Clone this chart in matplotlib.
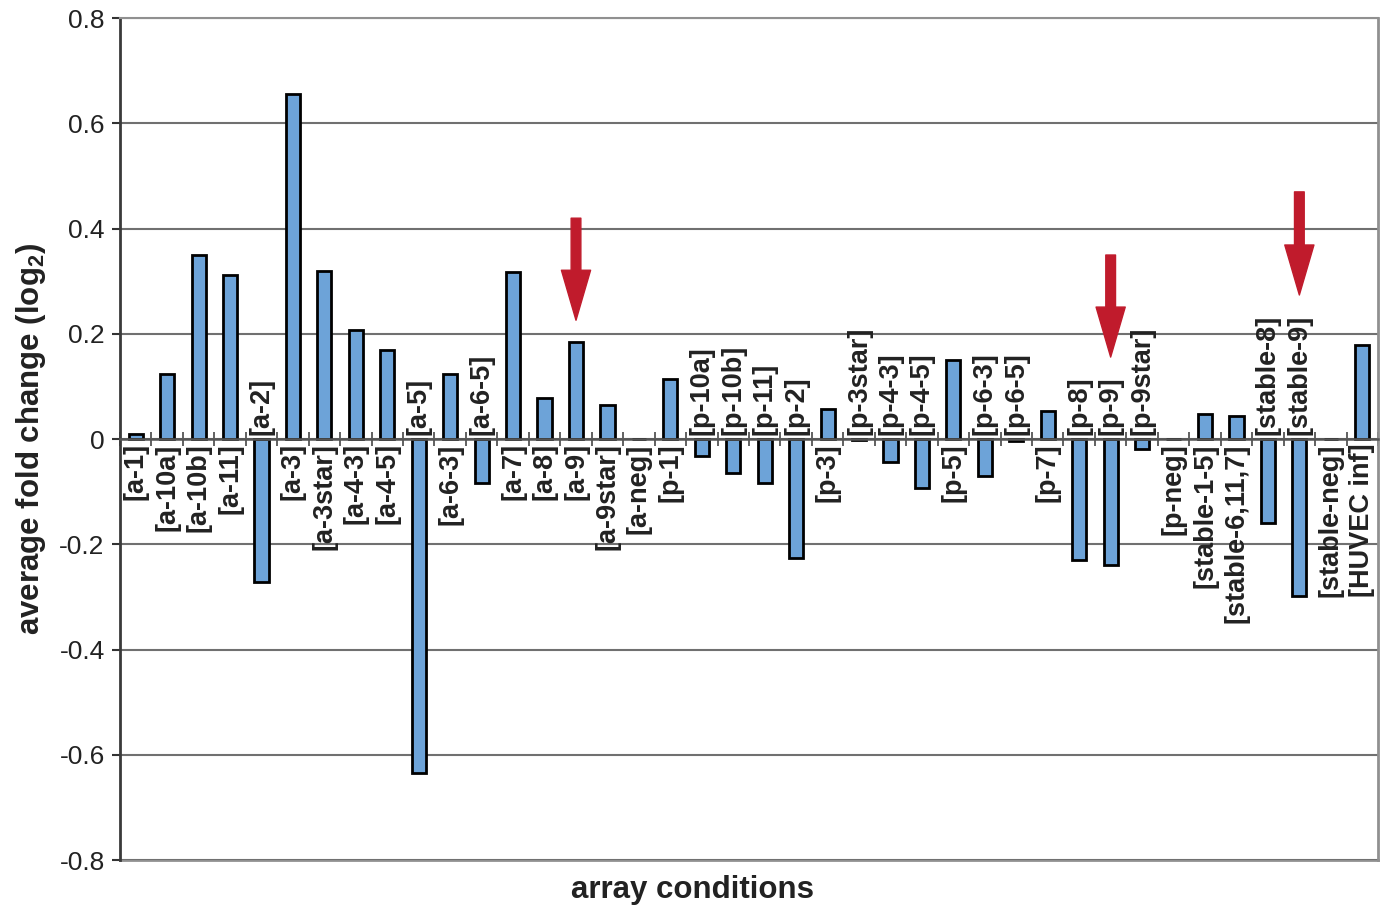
import matplotlib
matplotlib.use('Agg')
import matplotlib.pyplot as plt
import numpy as np

plt.rcParams['font.family'] = ['Liberation Sans', 'DejaVu Sans']
plt.rcParams['mathtext.fontset'] = 'custom'
plt.rcParams['mathtext.rm'] = 'Liberation Sans'
plt.rcParams['mathtext.bf'] = 'Liberation Sans:bold'

# conditions and their average log2 fold change
conditions = ['[a-1]', '[a-10a]', '[a-10b]', '[a-11]', '[a-2]', '[a-3]', '[a-3star]',
              '[a-4-3]', '[a-4-5]', '[a-5]', '[a-6-3]', '[a-6-5]', '[a-7]', '[a-8]',
              '[a-9]', '[a-9star]', '[a-neg]', '[p-1]', '[p-10a]', '[p-10b]', '[p-11]',
              '[p-2]', '[p-3]', '[p-3star]', '[p-4-3]', '[p-4-5]', '[p-5]', '[p-6-3]',
              '[p-6-5]', '[p-7]', '[p-8]', '[p-9]', '[p-9star]', '[p-neg]',
              '[stable-1-5]', '[stable-6,11,7]', '[stable-8]', '[stable-9]',
              '[stable-neg]', '[HUVEC inf]']
fold_change = [0.010, 0.124, 0.350, 0.312, -0.272, 0.656, 0.319,
               0.207, 0.169, -0.635, 0.124, -0.084, 0.317, 0.078,
               0.184, 0.065, 0.0, 0.114, -0.032, -0.065, -0.084,
               -0.226, 0.057, -0.001, -0.044, -0.093, 0.150, -0.070,
               -0.004, 0.053, -0.230, -0.240, -0.019, 0.0,
               0.048, 0.044, -0.160, -0.298,
               0.0, 0.179]

# red arrows: which condition, tail height, tip height
arrow_at = ['[a-9]', '[p-9]', '[stable-9]']
arrow_tail = [0.42, 0.35, 0.47]
arrow_tip = [0.226, 0.156, 0.274]

x = np.arange(len(conditions))

fig = plt.figure(figsize=(13.87, 9.13), dpi=100)
ax = fig.add_axes([0.0865, 0.058, 0.907, 0.922])

ax.bar(x, fold_change, width=0.45, color='#6DA3D8', edgecolor='black', linewidth=2, zorder=3)

ax.set_xlim(-0.5, len(conditions) - 0.5)
ax.set_ylim(-0.8, 0.8)
ax.set_yticks(np.arange(-0.8, 0.81, 0.2))
ax.set_yticklabels(['-0.8', '-0.6', '-0.4', '-0.2', '0', '0.2', '0.4', '0.6', '0.8'], fontsize=19)
ax.yaxis.grid(True, color='#707070', linewidth=1.5, zorder=0)
ax.tick_params(axis='y', direction='out', length=6, width=1.5, color='#333333', pad=5,
               labelcolor='#222222')

# x axis sits on zero, ticks between categories
ax.spines['bottom'].set_position(('data', 0))
ax.spines['bottom'].set_color('#555555')
ax.spines['bottom'].set_linewidth(1.8)
ax.spines['bottom'].set_zorder(4)
ax.set_xticks(np.arange(-0.5, len(conditions), 1.0))
ax.set_xticklabels([])
ax.tick_params(axis='x', direction='inout', length=10, width=1.3, color='#555555')

ax.spines['left'].set_color('#3a3a3a')
ax.spines['left'].set_linewidth(2)
ax.spines['top'].set_color('#909090')
ax.spines['top'].set_linewidth(1.5)
ax.spines['right'].set_color('#909090')
ax.spines['right'].set_linewidth(2)
ax.axhline(-0.8, color='#909090', linewidth=2, zorder=1, clip_on=False)

# labels next to zero line, on the side away from the bar
for xi, name, v in zip(x, conditions, fold_change):
    if v < 0:
        ax.text(xi, 0.008, name, rotation=90, ha='center', va='bottom',
                fontsize=19.5, fontweight='bold', color='#222222', zorder=5)
    else:
        ax.text(xi, -0.008, name, rotation=90, ha='center', va='top',
                fontsize=19.5, fontweight='bold', color='#222222', zorder=5)

for name, tail, tip in zip(arrow_at, arrow_tail, arrow_tip):
    xi = conditions.index(name)
    ax.annotate('', xy=(xi, tip), xytext=(xi, tail),
                arrowprops=dict(arrowstyle='simple,head_width=21,head_length=36,tail_width=7',
                                mutation_scale=1, color='#C01B2C', shrinkA=0, shrinkB=0),
                zorder=6)

ax.set_ylabel(r'average fold change (log$_\mathbf{2}$)', fontsize=22.5, fontweight='bold',
              color='#222222', labelpad=8)
fig.text(0.499, 0.025, 'array conditions', ha='center', va='center',
         fontsize=22.5, fontweight='bold', color='#222222')

fig.savefig('out.png', dpi=100)
